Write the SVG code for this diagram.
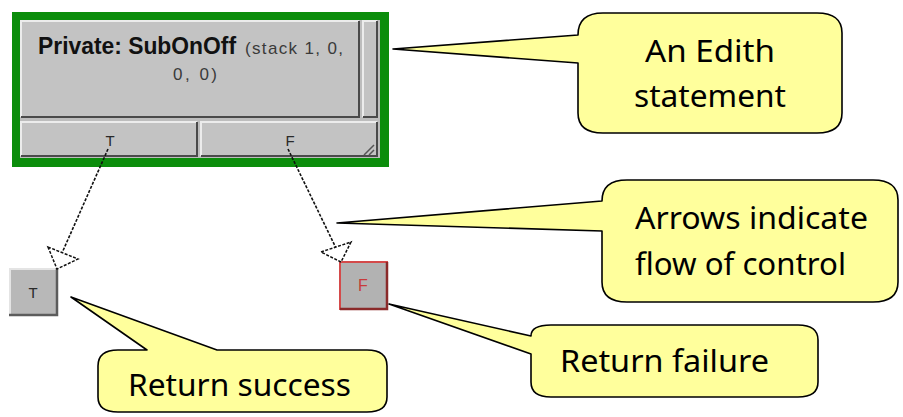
<svg xmlns="http://www.w3.org/2000/svg" width="903" height="417" viewBox="0 0 903 417">
<defs>
<style>
.call{fill:#ffff9c;stroke:#000;stroke-width:1.6;stroke-linejoin:round}
.ct{font-family:"Noto Sans","DejaVu Sans",sans-serif;font-size:30px;fill:#000}
.panel{fill:#c3c3c3}
.hi{stroke:#ececec;stroke-width:2;fill:none}
.lo{stroke:#4a4a4a;stroke-width:2;fill:none}
.lbl{font-family:"Liberation Sans",Arial,sans-serif;font-size:15px;fill:#2a2a2a;text-anchor:middle}
.conn{stroke:#111;stroke-width:1.6;stroke-dasharray:3 1.5;fill:none}
.head{stroke:#111;stroke-width:1.5;stroke-dasharray:3 1.5;fill:#fff}
</style>
</defs>
<rect width="903" height="417" fill="#fff"/>

<g id="node-statement">
<rect x="12" y="12" width="377" height="155" fill="#0b8d0b"/>
<rect x="20" y="20" width="360" height="138" fill="#bdbdbd"/>
<rect x="20" y="20" width="340" height="98" class="panel"/>
<path class="hi" d="M21,117 V21 H359"/>
<path class="lo" d="M21,117 H359 V21"/>
<rect x="362" y="20" width="16" height="98" class="panel"/>
<path class="hi" d="M363,117 V21 H377"/>
<path class="lo" d="M363,117 H377 V21"/>
<rect x="20" y="121" width="178" height="36" class="panel"/>
<path class="hi" d="M21,156 V122 H197"/>
<path class="lo" d="M21,156 H197 V122"/>
<rect x="200" y="121" width="178" height="36" class="panel"/>
<path class="hi" d="M201,156 V122 H377"/>
<path class="lo" d="M201,156 H377 V122"/>
<path d="M364,155 L374,145 M369,155 L374,150" stroke="#555" stroke-width="1.5"/>
<text x="38" y="54" font-family="Liberation Sans,Arial,sans-serif" font-size="24px" font-weight="bold" fill="#111" textLength="198" lengthAdjust="spacingAndGlyphs">Private: SubOnOff</text>
<text x="245" y="54" font-family="Liberation Sans,Arial,sans-serif" font-size="17px" fill="#3a3a3a" textLength="98" lengthAdjust="spacing">(stack 1, 0,</text>
<text x="173" y="80" font-family="Liberation Sans,Arial,sans-serif" font-size="17px" fill="#3a3a3a" textLength="44" lengthAdjust="spacing">0, 0)</text>
<text x="110" y="146" class="lbl">T</text>
<text x="290" y="146" class="lbl">F</text>
</g>

<g id="node-T">
<rect x="9" y="268" width="49" height="48" fill="#b8b8b8"/>
<path d="M10,315 V269 H57" stroke="#e4e4e4" stroke-width="2" fill="none"/>
<path d="M9,315 H57 V268" stroke="#5c5c5c" stroke-width="2.5" fill="none"/>
<text x="33" y="298" class="lbl">T</text>
</g>

<g id="node-F">
<rect x="340" y="262" width="47" height="47" fill="#b2b2b2" stroke="#d44a4a" stroke-width="2"/>
<path d="M340,309 H387 V262" stroke="#8a2a2a" stroke-width="2.5" fill="none"/>
<text x="363" y="291" class="lbl" style="fill:#c83a3a;font-size:16px">F</text>
</g>

<g id="connectors">
<path class="conn" d="M108,149 L62,253"/>
<path class="head" d="M48,247 L78,259 L57,269 Z"/>
<path class="conn" d="M288,149 L336,248"/>
<path class="head" d="M321,252 L351,242 L341,262 Z"/>
</g>

<g id="callout-edith">
<path class="call" d="M578,35 L393,49 L578,63 L578,113 Q578,133 603,133 L817,133 Q842,133 842,113 L842,33 Q842,13 817,13 L603,13 Q578,13 578,35 Z"/>
<text x="710" y="62" class="ct" text-anchor="middle" textLength="130" lengthAdjust="spacingAndGlyphs">An Edith</text>
<text x="710" y="107" class="ct" text-anchor="middle" textLength="152" lengthAdjust="spacingAndGlyphs">statement</text>
</g>

<g id="callout-arrows">
<path class="call" d="M602,201 L337,223 L602,231 L602,282 Q602,302 627,302 L873,302 Q898,302 898,282 L898,200 Q898,180 873,180 L627,180 Q602,180 602,201 Z"/>
<text x="635" y="229" class="ct" textLength="233" lengthAdjust="spacingAndGlyphs">Arrows indicate</text>
<text x="635" y="275" class="ct" textLength="211" lengthAdjust="spacingAndGlyphs">flow of control</text>
</g>

<g id="callout-failure">
<path class="call" d="M531,336 L389,304 L531,354 L531,382 Q531,397 551,397 L798,397 Q818,397 818,382 L818,340 Q818,325 798,325 L551,325 Q531,325 531,336 Z"/>
<text x="560" y="372" class="ct" textLength="209" lengthAdjust="spacingAndGlyphs">Return failure</text>
</g>

<g id="callout-success">
<path class="call" d="M147,350 L71,297 L217,350 L367,350 Q387,350 387,366 L387,397 Q387,412 367,412 L118,412 Q98,412 98,397 L98,366 Q98,350 118,350 Z"/>
<text x="128" y="396" class="ct" textLength="223" lengthAdjust="spacingAndGlyphs">Return success</text>
</g>
</svg>
